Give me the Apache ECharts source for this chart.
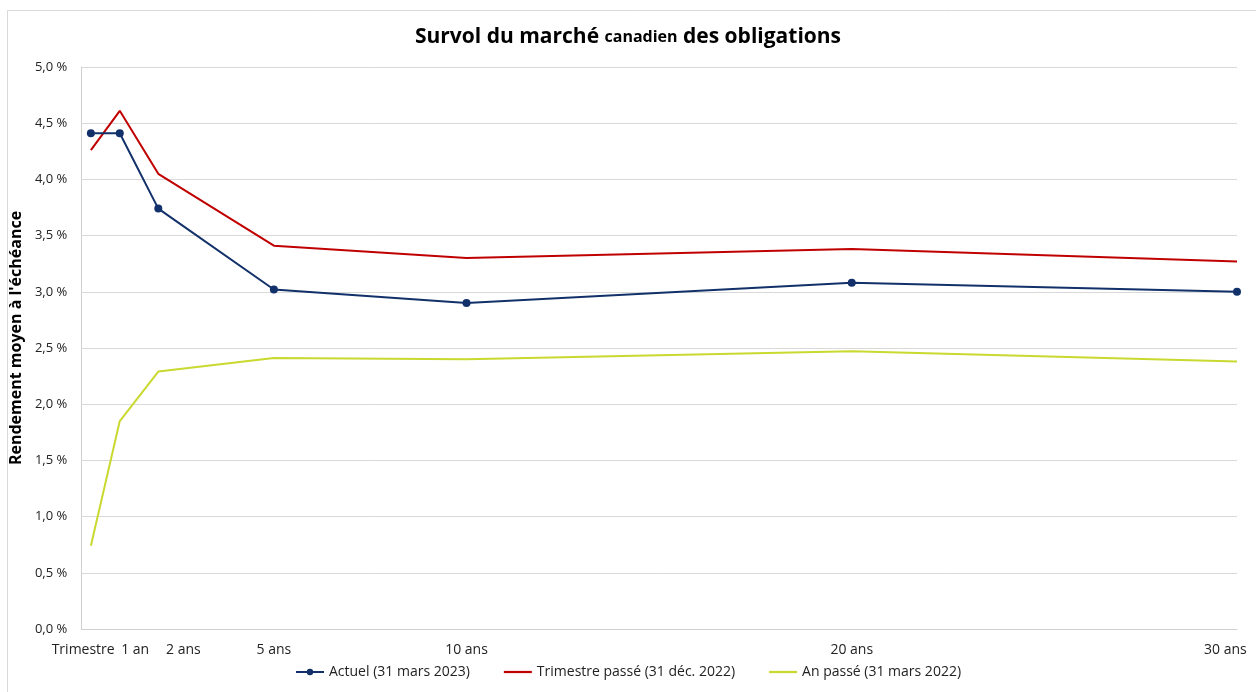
<!DOCTYPE html>
<html>
<head>
<meta charset="utf-8">
<script src="https://cdn.jsdelivr.net/npm/echarts@6/dist/echarts.min.js"></script>
<style>
  html, body { margin: 0; padding: 0; background: #fff; }
  #chart { width: 1256px; height: 692px; }
</style>
</head>
<body>
<div id="chart"></div>
<script>
// échéances (années) et rendements (%)
var maturities = [0.25, 1, 2, 5, 10, 20, 30];
var actuel = [4.41, 4.41, 3.74, 3.02, 2.90, 3.08, 3.00];
var trimestrePasse = [4.26, 4.61, 4.05, 3.41, 3.30, 3.38, 3.27];
var anPasse = [0.74, 1.85, 2.29, 2.41, 2.40, 2.47, 2.38];

// libellés de l'axe horizontal et leur place sur l'axe
var tickLabels = ['Trimestre', '1 an', '2 ans', '5 ans', '10 ans', '20 ans', '30 ans'];
var tickLabelAt = [0.05, 1.4, 2.65, 5, 10, 20, 29.7];

var seriesNames = ['Actuel (31 mars 2023)', 'Trimestre passé (31 déc. 2022)', 'An passé (31 mars 2022)'];
var font = "'Open Sans', 'Noto Sans', sans-serif";
var lineIcon = 'path://M0,3.6L10,3.6L10,4.4L0,4.4Z';

function pairs(vals) {
  return maturities.map(function (m, i) { return [m, vals[i]]; });
}

var myChart = echarts.init(document.getElementById('chart'));
var option = {
  backgroundColor: '#fff',
  animation: false,
  textStyle: { fontFamily: font },
  graphic: [{
    type: 'rect',
    shape: { x: 7.5, y: 10.5, width: 1260, height: 690 },
    style: { fill: 'none', stroke: '#d9d9d9', lineWidth: 1 },
    silent: true
  }],
  title: {
    text: '{a|Survol du marché }{b|canadien}{a| des obligations}',
    left: 'center',
    top: 22,
    textStyle: {
      rich: {
        a: { fontSize: 21, fontWeight: 'bold', color: '#000', fontFamily: font },
        b: { fontSize: 16, fontWeight: 'bold', color: '#000', fontFamily: font }
      }
    }
  },
  legend: {
    bottom: 8,
    left: 'center',
    itemGap: 34,
    itemWidth: 28,
    itemHeight: 8,
    textStyle: { fontSize: 14, color: '#222', fontFamily: font },
    data: [
      { name: seriesNames[0] },
      { name: seriesNames[1], icon: lineIcon },
      { name: seriesNames[2], icon: lineIcon }
    ]
  },
  grid: { left: 79, right: 19, top: 67, bottom: 63 },
  xAxis: {
    type: 'value',
    min: 0,
    max: 30,
    axisLine: { show: true, lineStyle: { color: '#d0d0d0', width: 1 } },
    axisTick: { show: false },
    splitLine: { show: false },
    axisLabel: {
      customValues: tickLabelAt,
      color: '#222',
      fontSize: 14,
      margin: 14,
      formatter: function (v) {
        var i = tickLabelAt.indexOf(v);
        return i >= 0 ? tickLabels[i] : '';
      }
    }
  },
  yAxis: {
    type: 'value',
    min: 0,
    max: 5,
    interval: 0.5,
    name: "Rendement moyen à l'échéance",
    nameLocation: 'middle',
    nameGap: 52,
    nameTextStyle: { fontSize: 16, fontWeight: 'bold', color: '#000', fontFamily: font, padding: [0, 0, 0, 20] },
    axisLine: { show: true, lineStyle: { color: '#d0d0d0', width: 1 } },
    axisTick: { show: false },
    splitLine: { lineStyle: { color: '#d9d9d9', width: 1 } },
    axisLabel: {
      color: '#222',
      fontSize: 13,
      margin: 14,
      formatter: function (v) { return v.toFixed(1).replace('.', ',') + ' %'; }
    }
  },
  series: [
    {
      name: seriesNames[0],
      type: 'line',
      data: pairs(actuel),
      symbol: 'circle',
      symbolSize: 8,
      lineStyle: { color: '#12306a', width: 2 },
      itemStyle: { color: '#12306a' },
      z: 3
    },
    {
      name: seriesNames[1],
      type: 'line',
      data: pairs(trimestrePasse),
      showSymbol: false,
      symbol: 'none',
      lineStyle: { color: '#c00000', width: 2 },
      itemStyle: { color: '#c00000' },
      z: 2
    },
    {
      name: seriesNames[2],
      type: 'line',
      data: pairs(anPasse),
      showSymbol: false,
      symbol: 'none',
      lineStyle: { color: '#c9d92f', width: 2 },
      itemStyle: { color: '#c9d92f' },
      z: 1
    }
  ]
};
myChart.setOption(option);
window.onresize = myChart.resize;
</script>
</body>
</html>
